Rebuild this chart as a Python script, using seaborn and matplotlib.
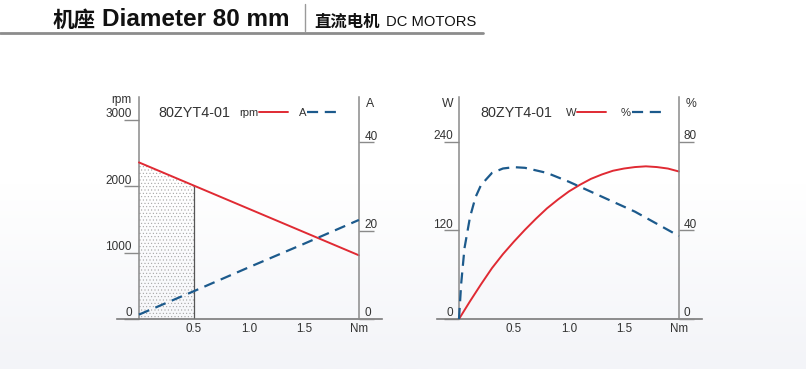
import numpy as np
import pandas as pd
import matplotlib
matplotlib.use("Agg")
import matplotlib.pyplot as plt
import seaborn as sns
from matplotlib.transforms import offset_copy
from matplotlib.lines import Line2D
from matplotlib.colors import LinearSegmentedColormap

# ---------------- data ----------------
model_name = "80ZYT4-01"

# left chart: speed & current vs torque
torque_speed = [0.0, 0.5, 1.0, 1.5, 2.0]
speed_rpm = [2360, 2010, 1660, 1310, 960]
current_a = [1.0, 6.3, 11.7, 17.0, 22.4]

# right chart: output power vs torque
torque_power = [0.0, 0.1, 0.2, 0.3, 0.4, 0.5, 0.6, 0.7, 0.8, 0.9, 1.0,
                1.1, 1.2, 1.3, 1.4, 1.5, 1.6, 1.7, 1.8, 1.9, 2.0]
power_w = [0, 24, 47, 69, 88, 105, 121, 136, 150, 162, 173,
           182, 190, 196, 201, 204, 206, 207, 206, 204, 200]

# right chart: efficiency vs torque
torque_eff = [0.0, 0.02, 0.05, 0.1, 0.15, 0.2, 0.3, 0.4, 0.5, 0.6, 0.8,
              1.0, 1.2, 1.4, 1.6, 1.8, 2.0]
efficiency_pct = [0, 16, 32, 46, 55, 60.5, 66, 68, 68.6, 68.3, 66,
                  62, 57.5, 53, 48.5, 43, 37.5]

rpm_ticks = [0, 1000, 2000, 3000]
amp_ticks = [0, 20, 40]
watt_ticks = [0, 120, 240]
pct_ticks = [0, 40, 80]
x_ticks = [0.5, 1.0, 1.5, 2.0]
x_tick_labels = ["0.5", "1.0", "1.5", "Nm"]

speed_df = pd.DataFrame({"Nm": torque_speed, "rpm": speed_rpm, "A": current_a})
power_df = pd.DataFrame({"Nm": torque_power, "W": power_w})
eff_df = pd.DataFrame({"Nm": torque_eff, "pct": efficiency_pct})

# ---------------- style ----------------
sns.set_theme(style="white")
plt.rcParams["font.family"] = ["Liberation Sans", "Noto Sans CJK SC", "DejaVu Sans"]
plt.rcParams["hatch.linewidth"] = 0.35

RED = "#e02a33"
BLUE = "#1c5a8c"
AXC = "#8a8a8a"
TXT = "#333333"
DASH = (0, (5, 3))

W, H = 806, 369
fig = plt.figure(figsize=(W / 100, H / 100), dpi=100)


def fx(x):
    return x / W


def fy(y):
    return 1 - y / H


# background gradient
bg = fig.add_axes([0, 0, 1, 1], zorder=-10)
grad = np.linspace(0, 1, 200).reshape(-1, 1)
cmap = LinearSegmentedColormap.from_list("bg", ["#ffffff", "#ffffff", "#f3f4f8"])
bg.imshow(grad, aspect="auto", cmap=cmap, extent=[0, 1, 0, 1], origin="upper")
bg.set_axis_off()

# header
fig.text(fx(53), fy(27), "机座", fontsize=15.5, fontweight="bold",
         family=["Noto Sans CJK SC"], color="#111111", va="baseline", ha="left")
fig.text(fx(102), fy(26.5), "Diameter 80 mm", fontsize=17.5, fontweight="bold",
         color="#111111", va="baseline", ha="left")
fig.text(fx(314), fy(26.5), "直流电机", fontsize=11.8, fontweight="bold",
         family=["Noto Sans CJK SC"], color="#111111", va="baseline", ha="left")
fig.text(fx(386), fy(26), "DC MOTORS", fontsize=10.6, color="#111111",
         va="baseline", ha="left")
fig.add_artist(Line2D([fx(305), fx(305)], [fy(4), fy(31)], color="#9a9a9a",
                      lw=1.0, transform=fig.transFigure))
fig.add_artist(Line2D([0, fx(483)], [fy(33), fy(33)], color="#8c8c8c",
                      lw=2.0, transform=fig.transFigure))


def setup_axes(left_px, ylim_left, ylim_right):
    ax = fig.add_axes([fx(left_px), (H - 319) / H, 265 / W, 222 / H])
    ax.set_facecolor("none")
    ax2 = ax.twinx()
    ax2.set_facecolor("none")
    ax.set_xlim(-0.2, 2.21)
    ax.set_ylim(*ylim_left)
    ax2.set_ylim(*ylim_right)
    for s in ["top", "right"]:
        ax.spines[s].set_visible(False)
    for s in ["top", "left", "bottom"]:
        ax2.spines[s].set_visible(False)
    ax.spines["left"].set_position(("data", 0))
    ax2.spines["right"].set_position(("data", 2.0))
    ax.spines["left"].set_color(AXC)
    ax.spines["left"].set_linewidth(1.1)
    ax.spines["bottom"].set_color("#7a7a7a")
    ax.spines["bottom"].set_linewidth(1.2)
    ax2.spines["right"].set_color(AXC)
    ax2.spines["right"].set_linewidth(1.1)
    ax.set_xticks(x_ticks)
    ax.set_xticklabels(x_tick_labels)
    ax.tick_params(axis="x", direction="in", length=11, width=1.0, color=AXC,
                   pad=3, labelsize=8.4, labelcolor=TXT)
    ax.set_xlabel("")
    ax.set_ylabel("")
    ax2.set_ylabel("")
    return ax, ax2


def y_ticks(ax, ticks, side, lab_off):
    ax.set_yticks(ticks)
    tr = offset_copy(ax.transData, fig=fig, x=lab_off, y=2.5, units="dots")
    if side == "left":
        ax.tick_params(axis="y", direction="out", length=11, width=1.0,
                       color=AXC, labelleft=False)
        for t in ticks:
            ax.text(0, t, str(t), transform=tr, ha="right", va="baseline",
                    fontsize=8.5, color=TXT)
    else:
        ax.tick_params(axis="y", direction="out", length=11, width=1.0,
                       color=AXC, labelright=False)
        for t in ticks:
            ax.text(2.0, t, str(t), transform=tr, ha="left", va="baseline",
                    fontsize=8.5, color=TXT)


# ---------------- left chart ----------------
axL, axL2 = setup_axes(117, (0, 3346), (0, 50.2))
y_ticks(axL, rpm_ticks, "left", -7)
y_ticks(axL2, amp_ticks, "right", 6)

axL.fill_between(torque_speed[:2], [0, 0], speed_rpm[:2], facecolor="none",
                 edgecolor="#9c9c9c", hatch=".....", linewidth=0, zorder=1)
axL.vlines(torque_speed[1], 0, speed_rpm[1], color="#555555", lw=0.9, zorder=2)
sns.lineplot(data=speed_df, x="Nm", y="rpm", ax=axL, color=RED, lw=1.4,
             label="rpm", legend=False, zorder=3)
sns.lineplot(data=speed_df, x="Nm", y="A", ax=axL2, color=BLUE, lw=1.6,
             linestyle=DASH, label="A", legend=False, zorder=3)
axL.set_xlabel(""); axL.set_ylabel(""); axL2.set_ylabel("")

fig.text(fx(131.5), fy(103), "rpm", ha="right", va="baseline", fontsize=8.5, color=TXT)
fig.text(fx(366), fy(107), "A", ha="left", va="baseline", fontsize=8.8, color=TXT)
fig.text(fx(158), fy(117), model_name, ha="left", va="baseline", fontsize=10.4, color=TXT)

hL = [axL.get_lines()[-1], axL2.get_lines()[-1]]
axL2.legend(hL, ["rpm", "A"], markerfirst=False, ncol=2, frameon=False,
            loc="center left", bbox_to_anchor=(fx(239), fy(112.5)),
            bbox_transform=fig.transFigure, borderpad=0, borderaxespad=0,
            handlelength=2.6, handletextpad=0.05, columnspacing=1.0,
            fontsize=8.1, labelcolor=TXT)

# ---------------- right chart ----------------
axR, axR2 = setup_axes(437, (0, 301), (0, 100.3))
y_ticks(axR, watt_ticks, "left", -6)
y_ticks(axR2, pct_ticks, "right", 5)

sns.lineplot(data=power_df, x="Nm", y="W", ax=axR, color=RED, lw=1.4,
             label="W", legend=False, zorder=3)
sns.lineplot(data=eff_df, x="Nm", y="pct", ax=axR2, color=BLUE, lw=1.6,
             linestyle=DASH, label="%", legend=False, zorder=3)
axR.set_xlabel(""); axR.set_ylabel(""); axR2.set_ylabel("")

fig.text(fx(453.5), fy(107), "W", ha="right", va="baseline", fontsize=8.8, color=TXT)
fig.text(fx(686), fy(107), "%", ha="left", va="baseline", fontsize=8.8, color=TXT)
fig.text(fx(480), fy(117), model_name, ha="left", va="baseline", fontsize=10.4, color=TXT)

hR = [axR.get_lines()[-1], axR2.get_lines()[-1]]
axR2.legend(hR, ["W", "%"], markerfirst=False, ncol=2, frameon=False,
            loc="center left", bbox_to_anchor=(fx(566), fy(112.5)),
            bbox_transform=fig.transFigure, borderpad=0, borderaxespad=0,
            handlelength=2.6, handletextpad=0.05, columnspacing=1.3,
            fontsize=8.1, labelcolor=TXT)

fig.savefig("out.png", dpi=100)
